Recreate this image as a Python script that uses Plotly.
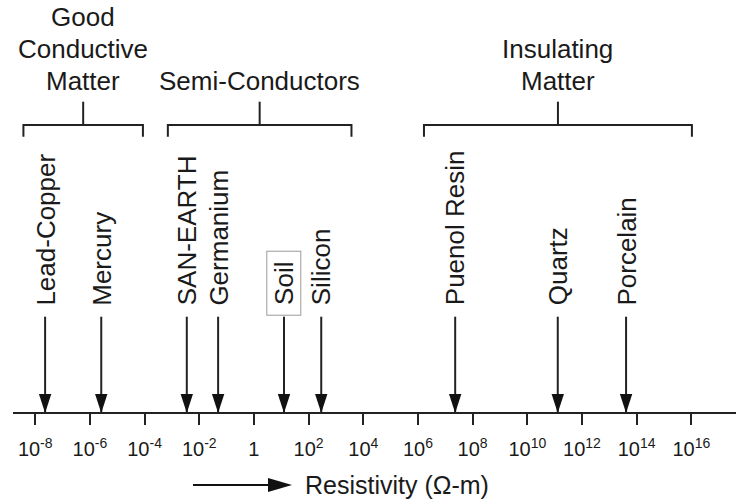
import math
import plotly.graph_objects as go

# ---------------- data ----------------
materials = ["Lead-Copper", "Mercury", "SAN-EARTH", "Germanium", "Soil",
             "Silicon", "Puenol Resin", "Quartz", "Porcelain"]
resistivity = [2.3e-8, 2.6e-6, 3.5e-3, 4.9e-2, 12.6, 2.9e2, 2.3e7, 1.3e11, 4.1e13]
boxed_materials = ["Soil"]

group_lines = [["Good", "Conductive", "Matter"], ["Semi-Conductors"], ["Insulating", "Matter"]]
group_low = [3.7e-9, 7.1e-4, 1.66e6]
group_high = [8.7e-5, 3.7e3, 1.05e16]

tick_exponents = list(range(-8, 17, 2))
tick_values = [10.0 ** e for e in tick_exponents]
tick_labels = ["1" if e == 0 else f"10<sup>{e}</sup>" for e in tick_exponents]

axis_title = "Resistivity (Ω-m)"

# ---------------- layout constants ----------------
W, H = 736, 503
FONT = "Arial, 'Liberation Sans', Helvetica, sans-serif"
TXT = "#1a1a1a"
LINE = "#222222"


def Y(py):
    """convert a pixel row (from top) to y-axis units"""
    return H - py


AXIS_PY = 413
SHAFT_TOP = 316.7
LABEL_BOTTOM = 307.5
BR_BOTTOM, BR_TOP, STEM_TOP = 136.7, 125, 101.7
TITLE_LAST_LINE_MID, TITLE_LINE_STEP = 80.8, 31.8

fig = go.Figure()

# arrow shafts
sx, sy = [], []
for v in resistivity:
    sx += [v, v, None]
    sy += [Y(SHAFT_TOP), Y(AXIS_PY + 1), None]
fig.add_trace(go.Scatter(x=sx, y=sy, mode="lines",
                         line=dict(color=LINE, width=2), hoverinfo="skip"))

# arrow heads
fig.add_trace(go.Scatter(x=resistivity, y=[Y(AXIS_PY)] * len(resistivity),
                         mode="markers",
                         marker=dict(symbol="arrow", angle=180, size=20,
                                     color="#111111", line=dict(width=0)),
                         hoverinfo="skip"))

# brackets
bx, by = [], []
for lo, hi in zip(group_low, group_high):
    mid = math.sqrt(lo * hi)
    bx += [lo, lo, hi, hi, None, mid, mid, None]
    by += [Y(BR_BOTTOM), Y(BR_TOP), Y(BR_TOP), Y(BR_BOTTOM), None,
           Y(BR_TOP), Y(STEM_TOP), None]
fig.add_trace(go.Scatter(x=bx, y=by, mode="lines",
                         line=dict(color=LINE, width=2), hoverinfo="skip"))

annotations = []
for name, v in zip(materials, resistivity):
    a = dict(x=math.log10(v), y=Y(LABEL_BOTTOM), xref="x", yref="y",
             text=name, showarrow=False, textangle=-90,
             xanchor="center", yanchor="bottom",
             font=dict(family=FONT, size=26, color=TXT))
    if name in boxed_materials:
        a.update(y=Y(SHAFT_TOP - 0.5), bordercolor="#9a9a9a", borderwidth=1,
                 borderpad=1, width=61, height=31)
    annotations.append(a)

for lines, lo, hi in zip(group_lines, group_low, group_high):
    xc = (math.log10(lo) + math.log10(hi)) / 2
    n = len(lines)
    for i, line in enumerate(lines):
        py = TITLE_LAST_LINE_MID - (n - 1 - i) * TITLE_LINE_STEP
        annotations.append(dict(x=xc, y=Y(py), xref="x", yref="y",
                                text=line, showarrow=False,
                                xanchor="center", yanchor="middle",
                                font=dict(family=FONT, size=26, color=TXT)))

annotations.append(dict(x=303 / W, y=Y(485), xref="paper", yref="y",
                        text=axis_title, showarrow=False,
                        xanchor="left", yanchor="middle",
                        font=dict(family=FONT, size=25, color=TXT)))

shapes = [
    dict(type="line", xref="paper", yref="y", x0=193 / W, x1=272 / W,
         y0=Y(485), y1=Y(485), line=dict(color="#111111", width=2)),
    dict(type="path", xref="paper", yref="y",
         path=f"M {268 / W},{Y(478)} L {292 / W},{Y(485)} L {268 / W},{Y(492)} Z",
         fillcolor="#111111", line=dict(width=0)),
]

fig.update_layout(
    width=W, height=H, template="none",
    margin=dict(l=0, r=0, t=0, b=0),
    paper_bgcolor="white", plot_bgcolor="white",
    showlegend=False,
    annotations=annotations, shapes=shapes,
    xaxis=dict(type="log", range=[-8.813, 17.634], domain=[13 / W, 1],
               anchor="free", position=(H - AXIS_PY) / H,
               showline=True, linewidth=2, linecolor=LINE,
               ticks="outside", ticklen=11, tickwidth=2, tickcolor=LINE,
               tickvals=tick_values, ticktext=tick_labels,
               ticklabelstandoff=7,
               tickfont=dict(family=FONT, size=20, color=TXT),
               showgrid=False, zeroline=False, automargin=False,
               fixedrange=True),
    yaxis=dict(range=[0, H], domain=[0, 1], visible=False,
               showgrid=False, zeroline=False, fixedrange=True),
)

fig.write_html("out.html", config={"displayModeBar": False},
               post_script="document.body.style.margin='0';"
                           "document.body.style.padding='0';"
                           "document.body.style.overflow='hidden';")
